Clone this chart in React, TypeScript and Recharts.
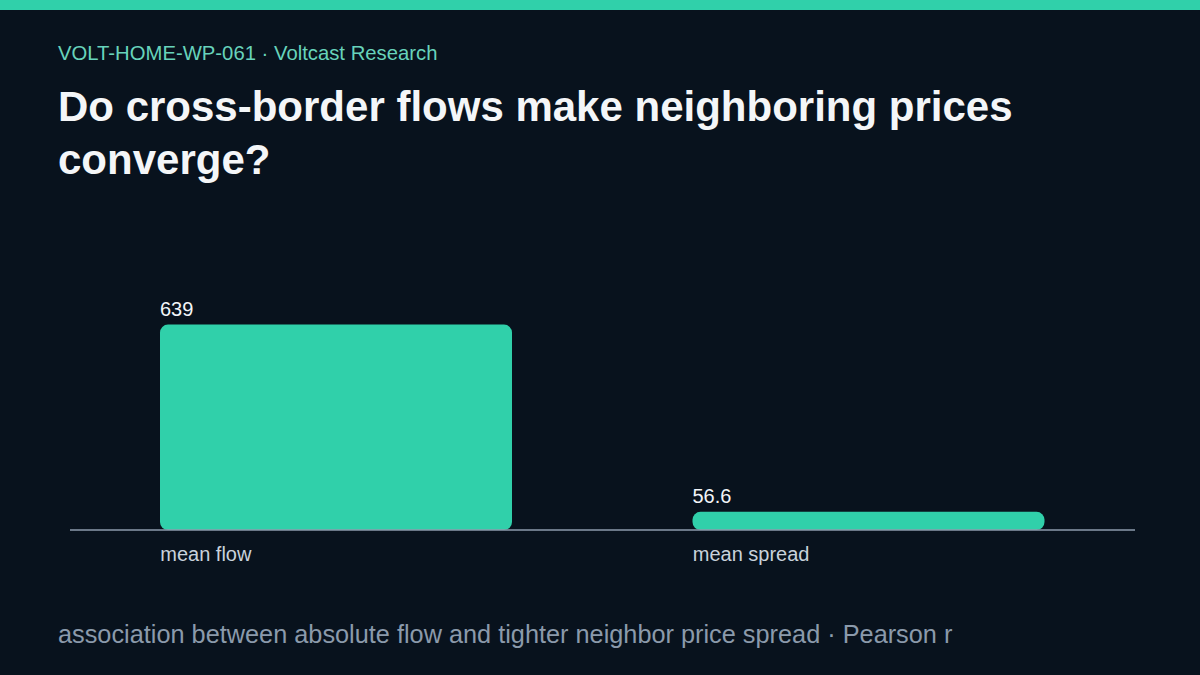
import { BarChart, Bar, XAxis, YAxis, LabelList } from "recharts";

const categories = ["mean flow", "mean spread"];
const values = [639, 56.6];
const valueLabels = ["639", "56.6"];

const data = categories.map((name, i) => ({
	name,
	value: values[i],
	label: valueLabels[i],
}));

const BG = "#08121d";
const ACCENT = "#30d0aa";
const FONT = '"Liberation Sans", Arial, sans-serif';
const BAR_SIZE = 352;

function CategoryTick(props: any) {
	const { x, y, payload } = props;
	return (
		<text
			x={x - BAR_SIZE / 2}
			y={y + 23}
			textAnchor="start"
			fill="#c9d2dc"
			fontSize={20}
			fontFamily={FONT}
		>
			{payload.value}
		</text>
	);
}

function ValueLabel(props: any) {
	const { x, y, index } = props;
	return (
		<text
			x={x}
			y={y - 9}
			textAnchor="start"
			fill="#f2f5f8"
			fontSize={20}
			fontFamily={FONT}
		>
			{valueLabels[index]}
		</text>
	);
}

export default function App() {
	return (
		<div
			style={{
				position: "absolute",
				left: 0,
				top: 0,
				width: 1200,
				height: 675,
				background: BG,
				overflow: "hidden",
				fontFamily: FONT,
			}}
		>
			<div style={{ height: 10, background: ACCENT }} />
			<div
				style={{
					position: "absolute",
					left: 58,
					top: 42,
					fontSize: 20.3,
					color: "#67d3bb",
				}}
			>
				VOLT-HOME-WP-061 · Voltcast Research
			</div>
			<div
				style={{
					position: "absolute",
					left: 58,
					top: 80,
					width: 1080,
					fontSize: 42,
					lineHeight: "53px",
					fontWeight: 700,
					color: "#f4f6f8",
				}}
			>
				Do cross-border flows make neighboring prices converge?
			</div>
			<div style={{ position: "absolute", left: 0, top: 0 }}>
				<BarChart
					width={1200}
					height={675}
					data={data}
					margin={{ top: 305, right: 65, bottom: 115, left: 70 }}
				>
					<YAxis hide domain={[0, 700]} />
					<XAxis
						dataKey="name"
						height={30}
						axisLine={{ stroke: "#8d9bad", strokeWidth: 1.5 }}
						tickLine={false}
						tick={<CategoryTick />}
						interval={0}
					/>
					<Bar
						dataKey="value"
						fill={ACCENT}
						barSize={BAR_SIZE}
						radius={8}
						isAnimationActive={false}
					>
						<LabelList dataKey="label" content={<ValueLabel />} />
					</Bar>
				</BarChart>
			</div>
			<div
				style={{
					position: "absolute",
					left: 58,
					top: 620,
					fontSize: 25.3,
					color: "#8b9aab",
				}}
			>
				association between absolute flow and tighter neighbor price spread · Pearson r
			</div>
		</div>
	);
}
